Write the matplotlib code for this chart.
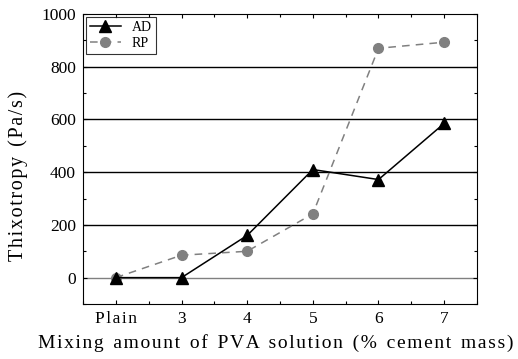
import matplotlib
matplotlib.use("Agg")
from matplotlib import pyplot as plt
from matplotlib.ticker import MultipleLocator

categories = ["Plain", "3", "4", "5", "6", "7"]
ad_values = [0, 0, 160, 410, 372, 585]
rp_values = [0, 85, 100, 242, 870, 893]

plt.rcParams['font.family'] = ['Liberation Serif', 'DejaVu Serif']


def spaced(text, gap="\u200a"):
    # widen the text a little, like the stretched original
    return "  ".join(gap.join(word) for word in text.split(" "))


fig = plt.figure(figsize=(5.18, 3.59), dpi=100)
ax = fig.add_axes([83 / 518, 1 - 304 / 359, (477 - 83) / 518, (304 - 14) / 359])

x = list(range(len(categories)))

# horizontal reference lines
ax.axhline(0, color="#808080", lw=1, zorder=1)
for yv in [200, 400, 600, 800]:
    ax.axhline(yv, color="black", lw=1, zorder=1)

ax.plot(x, rp_values, "--", color="#808080", marker="o", markersize=7,
        lw=1.1, dashes=(5, 4), label="RP", zorder=2)
ax.plot(x, ad_values, "-", color="black", marker="^", markersize=8,
        lw=1.1, label="AD", zorder=3)

ax.set_xlim(-0.5, 5.5)
ax.set_ylim(-100, 1000)
ax.set_xticks(x)
ax.set_xticklabels([spaced(c) for c in categories])
ax.xaxis.set_minor_locator(MultipleLocator(0.5))
ax.set_yticks([0, 200, 400, 600, 800, 1000])
ax.yaxis.set_minor_locator(MultipleLocator(100))
ax.tick_params(which="both", direction="in", top=True, right=True,
               labelsize=12.5, length=3, width=0.8, pad=5)
ax.tick_params(which="minor", length=2)

ax.set_ylabel(spaced("Thixotropy (Pa/s)"), fontsize=14.5)
ax.yaxis.set_label_coords(-0.14, 0.44)
ax.set_xlabel(spaced("Mixing amount of PVA solution (% cement mass)"),
              fontsize=14)
ax.xaxis.set_label_coords(0.49, -0.105)
ax.xaxis.label.set_va("top")

handles, labels = ax.get_legend_handles_labels()
leg = ax.legend(handles[::-1], labels[::-1], loc="upper left", fontsize=10,
                frameon=True, fancybox=False, edgecolor="black",
                borderaxespad=0.2, handlelength=2.2, borderpad=0.3,
                labelspacing=0.2)
leg.get_frame().set_linewidth(0.8)

plt.savefig("out.png", dpi=100)
